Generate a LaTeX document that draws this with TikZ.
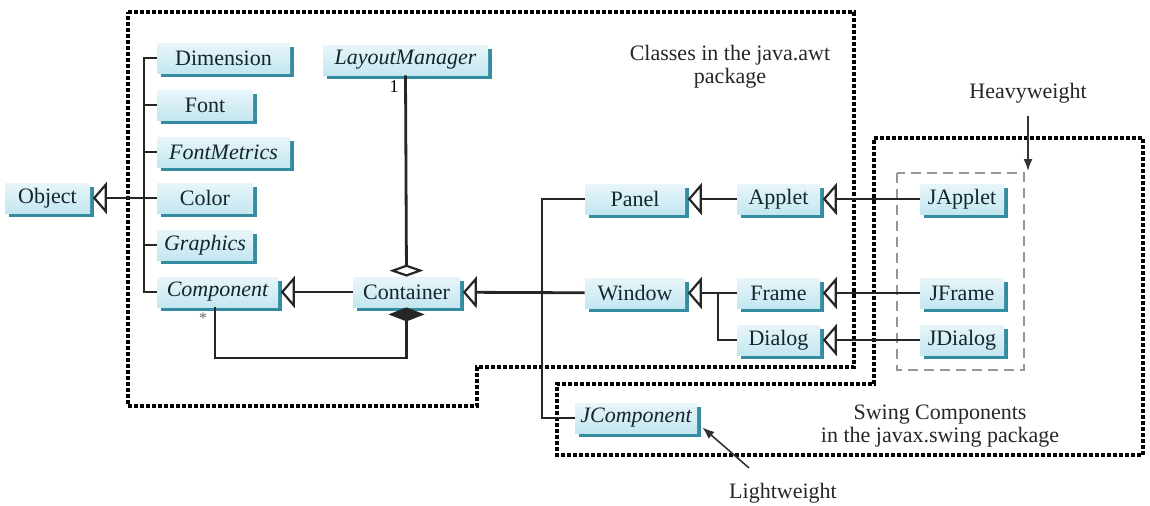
\documentclass[tikz,border=0pt]{standalone}
\usepackage{fontspec}
\setmainfont{Liberation Serif}
\usepackage{tikz}
\usetikzlibrary{arrows.meta, positioning, calc, shadows}
\usepackage{xcolor}
\definecolor{boxtop}{RGB}{232,246,250}
\definecolor{boxbot}{RGB}{196,230,240}
\definecolor{boxshadow}{RGB}{52,140,160}
\definecolor{boxtext}{RGB}{18,38,44}
\definecolor{heavygray}{RGB}{150,150,150}

\begin{document}
\begin{tikzpicture}[
    x=0.5pt, y=-0.5pt,
    box/.style={
        rectangle,
        top color=boxtop,
        bottom color=boxbot,
        minimum height=15pt,
        inner sep=0pt,
        text=boxtext,
        font=\fontsize{11}{13}\selectfont,
        drop shadow={fill=boxshadow, opacity=1, shadow xshift=1.8pt, shadow yshift=-1.8pt}
    },
    line/.style={
        line width=1.4pt,
        color=black!85
    },
    inherit/.style={
        line,
        -{Triangle[open, length=7pt, width=16pt, line width=1.1pt]},
        shorten >=1.2pt
    },
    aggregate/.style={
        line,
        {Diamond[open, length=6pt, width=17pt, line width=1.1pt]}-
    },
    compose/.style={
        line,
        {Diamond[length=7pt, width=18pt]}-
    },
    pointer/.style={
        -{Latex[length=6pt, width=4.5pt]},
        line width=0.8pt,
        color=black!80
    },
    pkg/.style={
        line width=1.6pt,
        dash pattern=on 2pt off 1pt
    },
    caption/.style={
        align=center,
        text=black!85,
        font=\fontsize{11}{11.5}\selectfont
    }
]
\useasboundingbox (0,0) rectangle (1150,505);

% package outlines
\draw[pkg] (128,12) -- (854,12) -- (854,367) -- (477,367) -- (477,406) -- (128,406) -- cycle;
\draw[pkg] (874,138) -- (1143,138) -- (1143,455) -- (557,455) -- (557,384) -- (874,384) -- cycle;
\draw[heavygray, line width=0.9pt, dash pattern=on 5pt off 3pt] (897,173) rectangle (1024,370);

\node[box, minimum width=42.5pt] (object)      at (47.5,198)  {Object};
\node[box, minimum width=66.5pt] (dimension)   at (223.5,58)  {Dimension};
\node[box, minimum width=48pt]   (font)        at (205,105)   {Font};
\node[box, minimum width=66.5pt] (fontmetrics) at (223.5,152) {\itshape FontMetrics};
\node[box, minimum width=48pt]   (color)       at (205,198)   {Color};
\node[box, minimum width=48pt]   (graphics)    at (205,245)   {\itshape Graphics};
\node[box, minimum width=60.5pt] (component)   at (217.5,292) {\itshape Component};
\node[box, minimum width=82.5pt] (layout)      at (405.5,60)  {\itshape LayoutManager};
\node[box, minimum width=53.5pt] (container)   at (406.5,292) {Container};
\node[box, minimum width=50pt]   (panel)       at (635,199)   {Panel};
\node[box, minimum width=41.5pt] (applet)      at (778.5,199) {Applet};
\node[box, minimum width=42pt]   (japplet)     at (962,199)   {JApplet};
\node[box, minimum width=50pt]   (window)      at (635,293)   {Window};
\node[box, minimum width=41.5pt] (frame)       at (778.5,293) {Frame};
\node[box, minimum width=41.5pt] (dialog)      at (778.5,340) {Dialog};
\node[box, minimum width=42pt]   (jframe)      at (962,293)   {JFrame};
\node[box, minimum width=42pt]   (jdialog)     at (962,340)   {JDialog};
\node[box, minimum width=61pt]   (jcomponent)  at (636,418)   {\itshape JComponent};

\node[caption] (awtlabel)   at (730,67)  {Classes in the java.awt\\package};
\node[caption] (swinglabel) at (940,426) {Swing Components\\in the javax.swing package};
\node[caption] (heavy)      at (1028,93) {Heavyweight};
\node[caption] (light)      at (783,493) {Lightweight};

\node[font=\fontsize{9}{9}\selectfont] (one)  at (394,87)  {1};
\node[font=\fontsize{8}{8}\selectfont, text=black!60] (many) at (203,318) {*};

\coordinate (trunk)  at (144,0);
\coordinate (ctrunk) at (542,0);
\coordinate (wtrunk) at (718,0);
\coordinate (cbend)  at (215,358);
\coordinate (heavytop) at (1028,171);

% subclasses of Object
\draw[line] (dimension.west) -- (dimension.west -| trunk) -- (component.west -| trunk) -- (component.west);
\foreach \n in {font, fontmetrics, graphics}
    \draw[line] (\n.west) -- (\n.west -| trunk);
\draw[inherit] (color.west) -- (object.east);

\draw[inherit] (container) -- (component);
\draw[aggregate] (container.north) -- (layout.south);
\draw[compose] (container.south) |- (cbend) -- (cbend |- component.south);

\draw[inherit] (window) -- (container);
\draw[line] (panel.west) -- (panel.west -| ctrunk) -- (jcomponent.west -| ctrunk) -- (jcomponent.west);

\draw[inherit] (applet) -- (panel);
\draw[inherit] (frame) -- (window);
\draw[line] (dialog.west) -| (wtrunk |- window.east);

\draw[inherit] (japplet) -- (applet);
\draw[inherit] (jframe) -- (frame);
\draw[inherit] (jdialog) -- (dialog);

\draw[pointer] (heavy.south) ++(0,6) -- (heavytop);
\draw[pointer] ($(light.north)+(-34,-8)$) -- ($(jcomponent.south east)+(5,-6)$);

\end{tikzpicture}
\end{document}
